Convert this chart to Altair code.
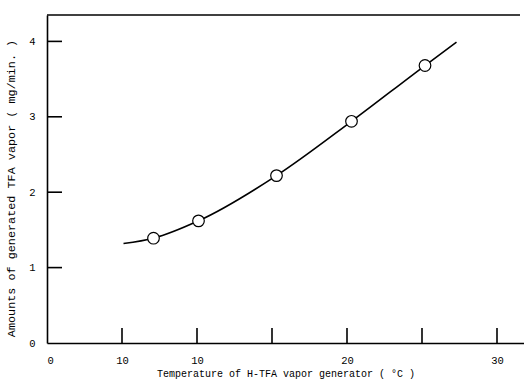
import altair as alt
import pandas as pd

# Measured TFA vapour output at each generator temperature
temp_c = [7.1, 10.1, 15.3, 20.3, 25.2]
tfa_mg_min = [1.39, 1.62, 2.22, 2.94, 3.68]

# Hand-drawn calibration curve traced through the measurements
curve_temp = [5.1, 7.1, 10.1, 15.3, 20.3, 25.2, 27.3]
curve_tfa = [1.32, 1.39, 1.62, 2.22, 2.94, 3.68, 3.99]

# Axis ticks and labels (labels printed as on the original figure)
x_tick_marks = [5, 10, 15, 20, 25, 30]
x_label_values = [0, 5, 10, 20, 30]
x_label_texts = ["0", "10", "10", "20", "30"]
y_tick_marks = [1, 2, 3, 4]
y_label_values = [0, 1, 2, 3, 4]

W, H = 477, 328
FONT = "Liberation Mono"
TICK_LEN = 15

x_scale = alt.Scale(domain=[0, 31.8], nice=False, zero=False)
y_scale = alt.Scale(domain=[0, 4.35], nice=False, zero=False)

label_expr = " : ".join(
    f"datum.value == {v} ? '{t}'" for v, t in zip(x_label_values, x_label_texts)
) + " : ''"

x_axis = alt.Axis(
    title="Temperature of H-TFA vapor generator ( °C )",
    values=x_label_values,
    labelExpr=label_expr,
    ticks=False,
    grid=False,
    domainColor="black",
    domainWidth=1.6,
    labelFont=FONT,
    labelFontSize=10.5,
    labelColor="black",
    labelPadding=12,
    titleFont=FONT,
    titleFontSize=10,
    titleFontWeight="normal",
    titleColor="black",
    titleY=30,
    titleBaseline="middle",
)
y_axis = alt.Axis(
    title="Amounts of generated TFA vapor ( mg/min. )",
    values=y_label_values,
    format="d",
    ticks=False,
    grid=False,
    domainColor="black",
    domainWidth=1.6,
    labelFont=FONT,
    labelFontSize=10.5,
    labelColor="black",
    labelPadding=12,
    titleFont=FONT,
    titleFontSize=11.8,
    titleFontWeight="normal",
    titleColor="black",
    titleAngle=270,
    titleX=-37,
    titleY=173,
    titleAlign="center",
    titleBaseline="middle",
)

x_enc = alt.X("t:Q", scale=x_scale, axis=x_axis)
y_enc = alt.Y("a:Q", scale=y_scale, axis=y_axis)

points = pd.DataFrame({"t": temp_c, "a": tfa_mg_min})
curve = pd.DataFrame({"t": curve_temp, "a": curve_tfa})
xticks = pd.DataFrame({"t": x_tick_marks})
yticks = pd.DataFrame({"a": y_tick_marks})

line = alt.Chart(curve).mark_line(
    color="black", strokeWidth=1.6, interpolate="monotone"
).encode(x=x_enc, y=y_enc)

dots = alt.Chart(points).mark_point(
    shape="circle", size=135, filled=True, fill="white", stroke="black",
    strokeWidth=1.2, opacity=1,
).encode(x=x_enc, y=y_enc)

# Inward-pointing tick marks on both axes
x_tick_rules = alt.Chart(xticks).mark_rule(color="black", strokeWidth=1.6).encode(
    x=x_enc,
    y=alt.value(H),
    y2=alt.value(H - TICK_LEN),
)
y_tick_rules = alt.Chart(yticks).mark_rule(color="black", strokeWidth=1.6).encode(
    y=y_enc,
    x=alt.value(0),
    x2=alt.value(TICK_LEN),
)

# Top frame line (the frame is open on the right)
top_frame = alt.Chart(pd.DataFrame({"k": [0]})).mark_rule(
    color="black", strokeWidth=1.6
).encode(x=alt.value(0), x2=alt.value(W - 4), y=alt.value(0))

chart = alt.layer(line, x_tick_rules, y_tick_rules, top_frame, dots).properties(
    width=W,
    height=H,
    background="white",
    autosize=alt.AutoSizeParams(type="none"),
    padding={"left": 47, "top": 15, "right": 0, "bottom": 42},
).configure_view(strokeWidth=0)

chart.save("out.html", embed_options={"renderer": "svg", "actions": False})
